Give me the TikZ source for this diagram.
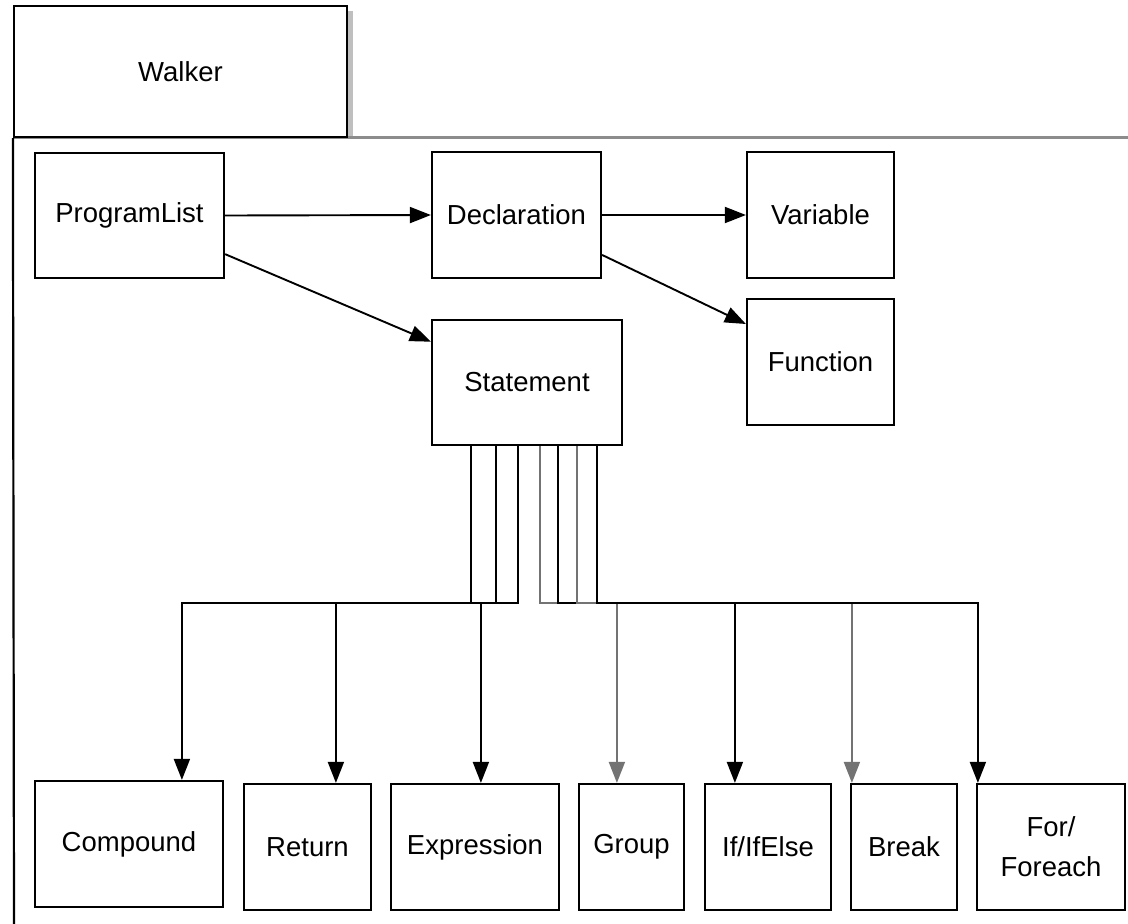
\documentclass[tikz,border=0pt]{standalone}
\usepackage{fontspec}
\setmainfont{Liberation Sans}
\usetikzlibrary{arrows.meta,calc}
\begin{document}
\begin{tikzpicture}[x=1pt,y=-1pt,
  box/.style={draw=black,line width=2.2pt,inner sep=0pt,align=center,
    font=\fontsize{27.5}{40}\selectfont,minimum height=126pt},
  conn/.style={line width=1.9pt,draw=black},
  arr/.style={conn,-{Triangle[length=21pt,width=16pt]}},
  soft/.style={draw=black!55},
  frameline/.style={line width=2.2pt,draw=black},
  sepline/.style={line width=3pt,draw=black!45},
]
\useasboundingbox (0,0) rectangle (1128,924);
% tab shadow
\fill[black!25] (348,11) rectangle (353,136);
% separator line
\draw[sepline] (14,137) -- (1128,137);
% Walker tab
\node[box,minimum width=333pt,minimum height=131pt] (tab) at (180.5,71.5) {Walker};
\draw[frameline] (tab.south west) -- (14,924);

% upper nodes
\node[box,minimum width=189pt,minimum height=125pt] (prog) at (129.5,215.5) {ProgramList};
\node[box,minimum width=169pt] (decl) at (516.5,215) {Declaration};
\node[box,minimum width=147pt] (var)  at (820.5,215) {Variable};
\node[box,minimum width=147pt] (func) at (820.5,362) {Function};
\node[box,minimum width=190pt,minimum height=125pt] (stmt) at (527,382.5) {Statement};

% lower nodes
\node[box,minimum width=188pt] (comp) at (129,844) {Compound};
\node[box,minimum width=127pt] (ret)  at (307.5,847) {Return};
\node[box,minimum width=168pt] (expr) at (475,847) {Expression};
\node[box,minimum width=105pt] (grp)  at (631.5,847) {Group};
\node[box,minimum width=126pt] (ifn)  at (768,847) {If/IfElse};
\node[box,minimum width=106pt] (brk)  at (904,847) {Break};
\node[box,minimum width=148pt] (forn) at (1051,847) {For/\\Foreach};

% upper connectors
\draw[arr] (prog.east) -- (decl.west);
\draw[arr] (decl.east) -- (var.west);
\draw[arr] (prog.-22.7) -- (stmt.157.3);
\draw[arr] (decl.-25.3) -- (func.153.3);

% statement bus connectors
\draw[arr] ($(stmt.south west)+(40,0)$) -- ++(0,157) -| ($(comp.north west)+(148,0)$);
\draw[arr] ($(stmt.south west)+(65,0)$) -- ++(0,157) -| ($(ret.north west)+(93,0)$);
\draw[arr] ($(stmt.south west)+(87,0)$) -- ++(0,157) -| ($(expr.north west)+(91,0)$);
\draw[arr,soft] ($(stmt.south west)+(109,0)$) -- ++(0,157) -| ($(grp.north west)+(39,0)$);
\draw[arr] ($(stmt.south west)+(127,0)$) -- ++(0,157) -| ($(ifn.north west)+(31,0)$);
\draw[arr,soft] ($(stmt.south west)+(146,0)$) -- ++(0,157) -| ($(brk.north west)+(2,0)$);
\draw[arr] ($(stmt.south west)+(166,0)$) -- ++(0,157) -| ($(forn.north west)+(2,0)$);
\end{tikzpicture}
\end{document}
